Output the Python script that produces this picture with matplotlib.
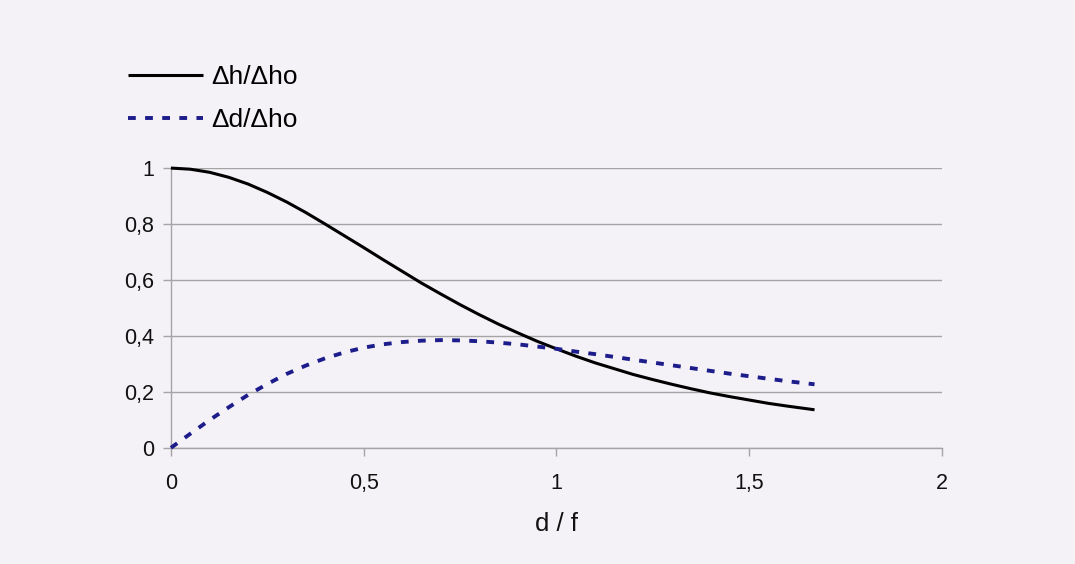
import matplotlib
matplotlib.use("Agg")
from matplotlib import pyplot as plt
from matplotlib.ticker import FuncFormatter

# values
d_over_f = [0.0, 0.05, 0.1, 0.15, 0.2, 0.25, 0.3, 0.35, 0.4, 0.45, 0.5, 0.55,
            0.6, 0.65, 0.7, 0.75, 0.8, 0.85, 0.9, 0.95, 1.0, 1.05, 1.1, 1.15,
            1.2, 1.25, 1.3, 1.35, 1.4, 1.45, 1.5, 1.55, 1.6, 1.67]
dh_dho = [1.000, 0.996, 0.985, 0.967, 0.943, 0.913, 0.879, 0.841, 0.800, 0.758,
          0.716, 0.673, 0.631, 0.589, 0.550, 0.512, 0.476, 0.442, 0.411, 0.381,
          0.354, 0.328, 0.304, 0.283, 0.262, 0.244, 0.227, 0.211, 0.196, 0.183,
          0.171, 0.159, 0.149, 0.136]
dd_dho = [0.000, 0.050, 0.099, 0.145, 0.189, 0.228, 0.264, 0.294, 0.320, 0.341,
          0.358, 0.370, 0.378, 0.383, 0.385, 0.384, 0.381, 0.376, 0.370, 0.362,
          0.354, 0.344, 0.335, 0.325, 0.315, 0.305, 0.295, 0.285, 0.275, 0.265,
          0.256, 0.247, 0.238, 0.227]

x_ticks = [0, 0.5, 1, 1.5, 2]
y_ticks = [0, 0.2, 0.4, 0.6, 0.8, 1]

BG = '#f4f2f7'
GRID = '#a4a4a4'
TXT = '#111111'

plt.rcParams['font.family'] = ['Liberation Sans', 'DejaVu Sans']

fig = plt.figure(figsize=(10.75, 5.64), dpi=100, facecolor=BG)
ax = fig.add_axes([0.159, 0.206, 0.717, 0.496], facecolor=BG)

ax.plot(d_over_f, dh_dho, color='black', lw=2.2, label='\u0394h/\u0394ho',
        solid_capstyle='butt', clip_on=False, zorder=3)
ax.plot(d_over_f, dd_dho, color='#1c1c8a', lw=2.8, linestyle=(0, (2.0, 2.4)),
        label='\u0394d/\u0394ho', clip_on=False, zorder=3)

ax.set_xlim(0, 2)
ax.set_ylim(0, 1)
ax.set_xticks(x_ticks)
ax.set_yticks(y_ticks)
comma = FuncFormatter(lambda v, p: ('%g' % v).replace('.', ','))
ax.xaxis.set_major_formatter(comma)
ax.yaxis.set_major_formatter(comma)

ax.grid(axis='y', color=GRID, lw=1)
ax.set_axisbelow(True)
for s in ['top', 'right']:
    ax.spines[s].set_visible(False)
for s in ['left', 'bottom']:
    ax.spines[s].set_color(GRID)
    ax.spines[s].set_linewidth(1)
ax.tick_params(axis='both', color=GRID, length=6, width=1, labelsize=15.5,
               labelcolor=TXT)
ax.tick_params(axis='x', pad=12)
ax.tick_params(axis='y', pad=6)

ax.set_xlabel('d / f', fontsize=18.5, color=TXT, labelpad=13)

ax.legend(loc='upper left', bbox_to_anchor=(-0.056, 1.367),
          frameon=False, fontsize=19, handlelength=2.85, handletextpad=0.3,
          labelspacing=0.72, borderaxespad=0, borderpad=0)

fig.savefig('out.png', dpi=100, facecolor=BG)
